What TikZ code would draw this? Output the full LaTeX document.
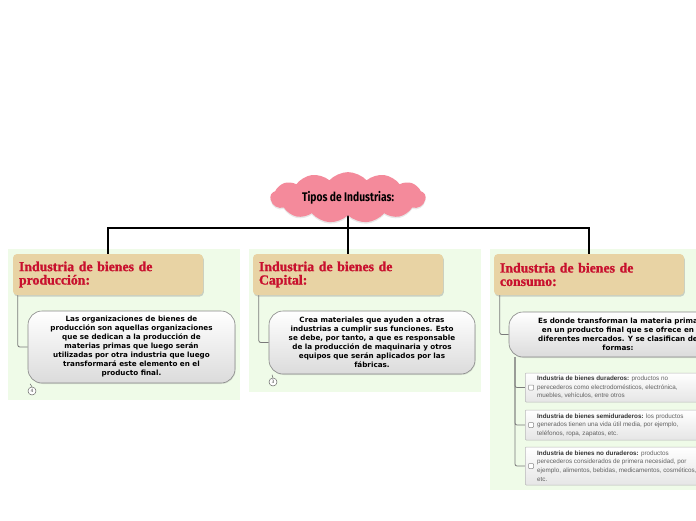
\documentclass[tikz,border=0pt]{standalone}
\usepackage{fontspec}
\setmainfont{DejaVu Sans}
\newfontfamily\bodyfont{DejaVu Sans}
\newfontfamily\titlefont[FakeBold=1.2]{Liberation Serif}
\newfontfamily\subfont{Liberation Sans}
\newfontfamily\cloudfont[FakeStretch=0.82]{Fira Sans}
\usetikzlibrary{shapes.symbols,shadows,calc}
\definecolor{titlered}{HTML}{C8102E}
\definecolor{tan}{HTML}{E8D3A4}
\definecolor{panelgreen}{HTML}{EFFBE8}
\definecolor{cloudpink}{HTML}{F48A9B}
\definecolor{connGray}{HTML}{7A7A7A}
\pgfdeclarelayer{panels}
\pgfdeclarelayer{lines}
\pgfsetlayers{panels,lines,main}
\tikzset{
  panel/.style={fill=panelgreen, draw=none, minimum width=232pt, anchor=north west, inner sep=0pt},
  titlebox/.style={fill=tan, rounded corners=4pt, minimum width=190pt, minimum height=41pt, text width=178pt, align=left, inner sep=0pt,
    font=\titlefont\bfseries\fontsize{13.8}{13.4}\selectfont, text=titlered,
    drop shadow={shadow xshift=0.8pt, shadow yshift=-1.5pt, opacity=0.35}},
  contentbox/.style={draw=connGray!90, line width=0.6pt, rounded corners=14pt, top color=white, bottom color=black!14, align=center, inner sep=0pt,
    font=\bodyfont\bfseries\fontsize{7.2}{9}\selectfont,
    drop shadow={shadow xshift=0.6pt, shadow yshift=-1pt, opacity=0.2}},
  subbox/.style={draw=black!28, line width=0.5pt, rounded corners=1pt, top color=white, bottom color=black!10, minimum width=195pt, anchor=west, inner sep=0pt},
  subtxt/.style={anchor=west, align=left, inner sep=0pt, font=\subfont\fontsize{6.3}{8.6}\selectfont, text=black!62},
  chk/.style={draw=black!45, line width=0.5pt, rounded corners=0.8pt, minimum size=5pt, inner sep=0pt, fill=white},
  conn/.style={draw=connGray, line width=0.8pt, rounded corners=2pt},
  main/.style={draw=black, line width=1.3pt},
  badge/.style={circle, draw=black!60, line width=0.5pt, fill=white, minimum size=8pt, inner sep=0pt, font=\bodyfont\fontsize{4.5}{5}\selectfont, text=black!70},
}
\begin{document}
\begin{tikzpicture}[x=1pt,y=-1pt]
\clip (0,0) rectangle (696,520);

% panels
\begin{pgfonlayer}{panels}
\fill[white] (0,0) rectangle (696,520);
\node[panel, minimum height=151pt] (p1) at (8,249) {};
\node[panel, minimum height=143pt] (p2) at (249,249) {};
\node[panel, minimum height=241pt] (p3) at (490,249) {};
\end{pgfonlayer}

% cloud
\node[cloud, cloud puffs=13, cloud puff arc=95, aspect=3.4, minimum width=155pt, minimum height=48pt, inner sep=0pt,
  fill=cloudpink, draw=none, drop shadow={shadow xshift=0pt, shadow yshift=-1.5pt, opacity=0.18},
  font=\cloudfont\bfseries\fontsize{12.5}{14}\selectfont] (cloud) at (348,197.5) {\raisebox{-3pt}{Tipos de Industrias:}};

% titles
\node[titlebox] (t1) at (108,274.5) {Industria de bienes de\\producción:};
\node[titlebox] (t2) at (348,274.5) {Industria de bienes de\\Capital:};
\node[titlebox] (t3) at (589,274.5) {Industria de bienes de\\consumo:};

% content boxes
\node[contentbox, minimum width=207pt, minimum height=72pt] (c1) at (131.5,347) {Las organizaciones de bienes de\\producción son aquellas organizaciones\\que se dedican a la producción de\\materias primas que luego serán\\utilizadas por otra industria que luego\\transformará este elemento en el\\producto final.};
\node[contentbox, minimum width=206pt, minimum height=63pt] (c2) at (372,342.5) {Crea materiales que ayuden a otras\\industrias a cumplir sus funciones. Esto\\se debe, por tanto, a que es responsable\\de la producción de maquinaria y otros\\equipos que serán aplicados por las\\fábricas.};
\node[contentbox, minimum width=218pt, minimum height=45pt] (c3) at (618,334.5) {Es donde transforman la materia prima\\en un producto final que se ofrece en\\diferentes mercados. Y se clasifican de\\formas:};

% badges
\node[badge] (b1) at (32,391) {4};
\node[badge] (b2) at (273,382) {3};

% sub boxes
\node[subbox, minimum height=29pt] (s1) at (525,387.5) {};
\node[subbox, minimum height=30pt] (s2) at (525,425) {};
\node[subbox, minimum height=38pt] (s3) at (525,466) {};
\node[chk] (k1) at ($(s1.west)+(6,0)$) {};
\node[chk] (k2) at ($(s2.west)+(6,0)$) {};
\node[chk] (k3) at ($(s3.west)+(6,0)$) {};
\node[subtxt] (st1) at (537,387.5) {{\color{black!80}\bfseries Industria de bienes duraderos:} productos no\\perecederos como electrodomésticos, electrónica,\\muebles, vehículos, entre otros};
\node[subtxt] (st2) at (537,425) {{\color{black!80}\bfseries Industria de bienes semiduraderos:} los productos\\generados tienen una vida útil media, por ejemplo,\\teléfonos, ropa, zapatos, etc.};
\node[subtxt] (st3) at (537,466) {{\color{black!80}\bfseries Industria de bienes no duraderos:} productos\\perecederos considerados de primera necesidad, por\\ejemplo, alimentos, bebidas, medicamentos, cosméticos,\\etc.};

% connectors
\coordinate (hub) at (348,228);
\coordinate (trunk) at (515,357);
\begin{pgfonlayer}{lines}
\draw[main] (cloud.center) -- (hub);
\draw[main] (t1.north) |- (hub) -| (t3.north);
\draw[main] (hub) -- (t2.north);
\draw[conn] ($(t1.south west)+(5,0)$) |- (c1.west);
\draw[conn] ($(t2.south west)+(6,0)$) |- (c2.west);
\draw[conn] ($(t3.south west)+(6,0)$) |- (c3.west);
\draw[conn] (trunk) |- (s1.west);
\draw[conn] (trunk) |- (s2.west);
\draw[conn] (trunk) |- (s3.west);
\draw[draw=black!60, line width=0.5pt] (b1.north) -- ++(-2,-3);
\draw[draw=black!60, line width=0.5pt] (b2.north) -- ++(-1,-3);
\end{pgfonlayer}
\end{tikzpicture}
\end{document}
